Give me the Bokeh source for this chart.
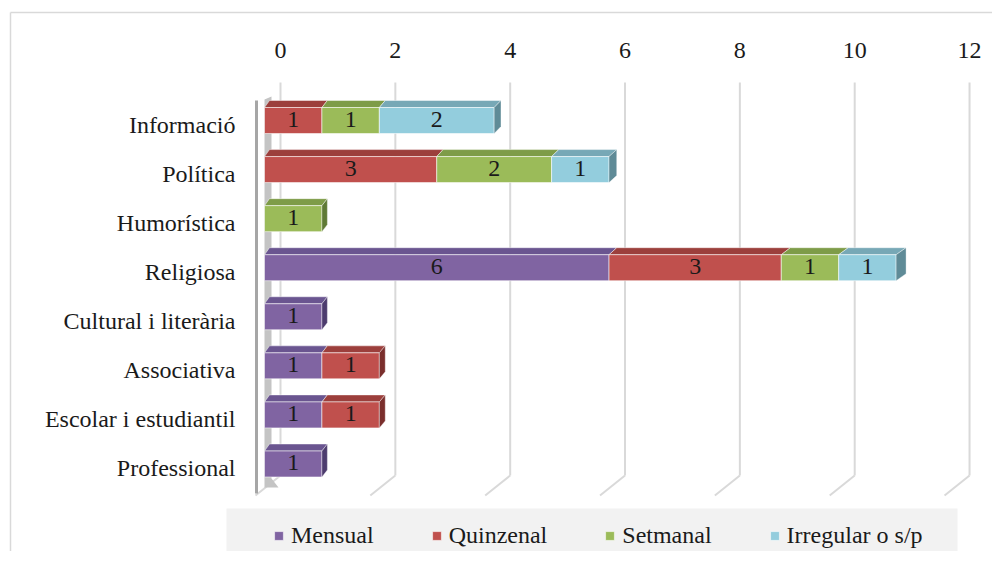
from bokeh.plotting import figure
from bokeh.models import Range1d, Legend, LegendItem, ColumnDataSource
from bokeh.core.properties import value
from bokeh.embed import file_html
from bokeh.resources import INLINE

# ---------------- data ----------------
categories = ["Informació", "Política", "Humorística", "Religiosa",
              "Cultural i literària", "Associativa", "Escolar i estudiantil", "Professional"]
series = ["Mensual", "Quinzenal", "Setmanal", "Irregular o s/p"]
mensual   = [0, 0, 0, 6, 1, 1, 1, 1]
quinzenal = [1, 3, 0, 3, 0, 1, 1, 0]
setmanal  = [1, 2, 1, 1, 0, 0, 0, 0]
irregular = [2, 1, 0, 1, 0, 0, 0, 0]
ticks = [0, 2, 4, 6, 8, 10, 12]

front_colors = ["#8064A2", "#C0504D", "#9BBB59", "#93CDDD"]
top_colors   = ["#6A5590", "#9C3F3C", "#7E9C48", "#77A8B6"]
side_colors  = ["#4D3C6E", "#7A2E2C", "#5F7A35", "#5F8B97"]

FONT = "Liberation Serif"
FS = "24px"
TXT = "#1a1a1a"

# ---------------- scale set-up (frame = whole canvas) ----------------
W, H = 992, 551
PX_X = 57.42     # pixels per unit on the back wall
X0 = 280         # pixel of value 0 on the back wall
PX_Y = 49.07     # pixels per category step
Y0 = 120         # pixel of the first category's centre

x_range = Range1d(-X0 / PX_X, (W - X0) / PX_X)
y_range = Range1d((H - Y0) / PX_Y, -Y0 / PX_Y)   # flipped: category 0 on top

def dx(px):
    return px / PX_X

def dy(px):
    return px / PX_Y

def X(px):   # canvas pixel -> data x (layout helper for decorations)
    return (px - X0) / PX_X

def Y(px):
    return (px - Y0) / PX_Y

p = figure(width=W, height=H, x_range=x_range, y_range=y_range,
           output_backend="svg", toolbar_location=None, min_border=0,
           x_axis_location=None, y_axis_location=None)
p.outline_line_color = None
p.xgrid.grid_line_color = None
p.ygrid.grid_line_color = None
p.background_fill_color = "white"
p.border_fill_color = "white"

# outer chart border
p.segment(x0=[X(10), X(10)], y0=[Y(12), Y(12)], x1=[X(1010), X(10)], y1=[Y(12), Y(570)],
          line_color="#d9d9d9", line_width=1.5)

# ---------------- back wall gridlines and floor ----------------
grid_top, grid_bot, floor_front = Y(82), Y(475), Y(495)
p.segment(x0=ticks, y0=[grid_top] * len(ticks), x1=ticks, y1=[grid_bot] * len(ticks),
          line_color="#d9d9d9", line_width=2)
p.segment(x0=ticks, y0=[grid_bot] * len(ticks),
          x1=[t - dx(25) for t in ticks], y1=[floor_front] * len(ticks),
          line_color="#d9d9d9", line_width=2)

# left wall
p.segment(x0=[-dx(24)], y0=[Y(100)], x1=[-dx(24)], y1=[Y(493)],
          line_color="#a6a6a6", line_width=3)
p.patch(x=[-dx(16), -dx(9), -dx(9), -dx(2), -dx(16)],
        y=[Y(99), Y(96), Y(478), Y(487), Y(487)],
        fill_color="#c4c4c4", line_color=None)

# tick labels
p.text(x=ticks, y=[Y(50)] * len(ticks), text=[str(t) for t in ticks],
       text_font=value(FONT), text_font_size=FS, text_color=TXT,
       text_align="center", text_baseline="middle")

# category labels
ncat = len(categories)
p.text(x=[X(235)] * ncat, y=[i + dy(4.5) for i in range(ncat)], text=categories,
       text_font=value(FONT), text_font_size=FS, text_color=TXT,
       text_align="right", text_baseline="middle")

# ---------------- bars (3-D look) ----------------
all_series = [mensual, quinzenal, setmanal, irregular]
SHIFT = dx(16)     # front face in front of back wall
HALF = dy(13)      # half height of front face
DEPTH_Y = dy(7)

def depth_x(v):
    return dx(5 + 0.45 * v)

front_renderers = []
lab_x, lab_y, lab_t = [], [], []
for s, vals in enumerate(all_series):
    left, right, ys = [], [], []
    tx, ty = [], []
    for i in range(ncat):
        v = vals[i]
        if v == 0:
            continue
        start = sum(all_series[k][i] for k in range(s))
        end = start + v
        l, r = start - SHIFT, end - SHIFT
        left.append(l); right.append(r); ys.append(i)
        tx.append([l, r, r + depth_x(end), l + depth_x(start)])
        ty.append([i - HALF, i - HALF, i - HALF - DEPTH_Y, i - HALF - DEPTH_Y])
        lab_x.append((l + r) / 2); lab_y.append(i - dy(1.5)); lab_t.append(str(v))
    p.patches(xs=tx, ys=ty, fill_color=top_colors[s], line_color="white",
              line_alpha=0.45, line_width=1)
    src = ColumnDataSource(dict(left=left, right=right,
                                top=[y - HALF for y in ys], bottom=[y + HALF for y in ys]))
    r = p.quad(left="left", right="right", top="top", bottom="bottom", source=src,
               fill_color=front_colors[s], line_color="white", line_alpha=0.55, line_width=1)
    front_renderers.append(r)

# side faces at the end of every stack
sx, sy, sc = [], [], []
for i in range(ncat):
    total = sum(all_series[k][i] for k in range(4))
    last = max(k for k in range(4) if all_series[k][i] > 0)
    r = total - SHIFT
    d = depth_x(total)
    sx.append([r, r + d, r + d, r])
    sy.append([i - HALF, i - HALF - DEPTH_Y, i + HALF - DEPTH_Y, i + HALF])
    sc.append(side_colors[last])
p.patches(xs=sx, ys=sy, fill_color=sc, line_color="white", line_alpha=0.35, line_width=1)

# value labels
p.text(x=lab_x, y=lab_y, text=lab_t, text_font=value(FONT), text_font_size=FS,
       text_color=TXT, text_align="center", text_baseline="middle")

# ---------------- legend ----------------
p.quad(left=[X(226)], right=[X(957)], top=[Y(508)], bottom=[Y(570)],
       fill_color="#f2f2f2", line_color=None)

legend = Legend(items=[LegendItem(label=series[k], renderers=[front_renderers[k]])
                       for k in range(4)],
                orientation="horizontal", location=(273, 2),
                glyph_width=11, glyph_height=11, label_standoff=7, spacing=57,
                padding=0, margin=0, label_height=24,
                label_text_font=FONT, label_text_font_size=FS, label_text_color=TXT,
                background_fill_alpha=0, border_line_color=None)
p.add_layout(legend)

open("out.html", "w").write(file_html(p, INLINE))
